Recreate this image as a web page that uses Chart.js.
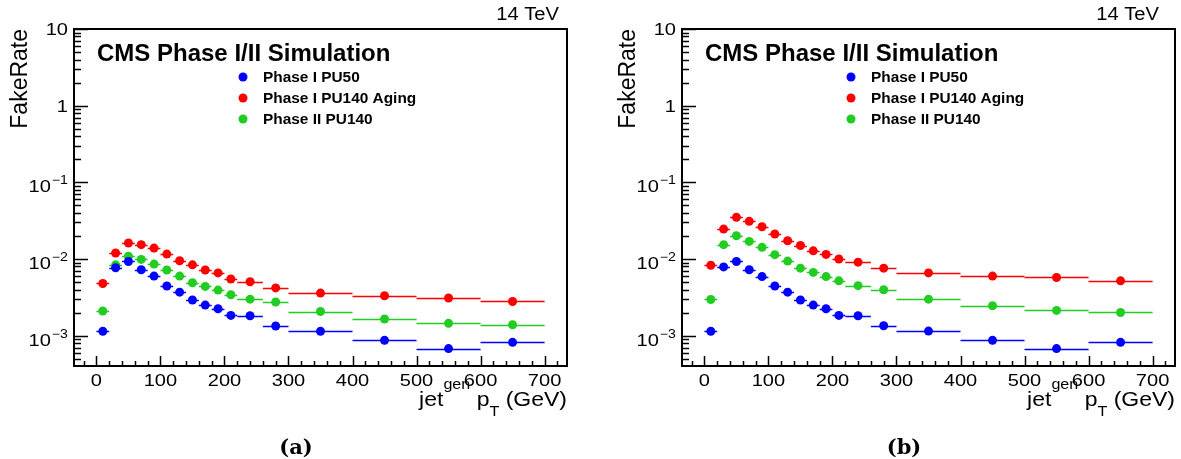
<!DOCTYPE html>
<html>
<head>
<meta charset="utf-8">
<title>FakeRate vs jet pT</title>
<script src="https://cdn.jsdelivr.net/npm/chart.js@4.4.1/dist/chart.umd.min.js"></script>
<style>
  body { margin: 0; background: #ffffff; }
  #wrap { position: relative; width: 1181px; height: 459px; background: #ffffff; }
  canvas { position: absolute; top: 0; }
</style>
</head>
<body>
<div id="wrap">
  <canvas id="chartA" width="590" height="459" style="left:0px"></canvas>
  <canvas id="chartB" width="591" height="459" style="left:590px"></canvas>
</div>
<script>
// bin edges in jet gen pT (GeV)
const binEdges = [0, 20, 40, 60, 80, 100, 120, 140, 160, 180, 200, 220, 260, 300, 400, 500, 600, 700];
const binCenters = binEdges.slice(0, -1).map((e, i) => (e + binEdges[i + 1]) / 2);

const seriesLabels = ['Phase I PU50', 'Phase I PU140 Aging', 'Phase II PU140'];
const seriesColors = ['#0000ff', '#ff0000', '#22cc22'];

// panel (a)
const aPU50 = [1.14e-3, 7.7e-3, 9.3e-3, 7.25e-3, 6.0e-3, 4.45e-3, 3.7e-3, 2.92e-3, 2.51e-3, 2.25e-3, 1.84e-3, 1.82e-3, 1.34e-3, 1.14e-3, 8.7e-4, 6.8e-4, 8.2e-4];
const aPU140Aging = [4.8e-3, 1.20e-2, 1.62e-2, 1.54e-2, 1.39e-2, 1.16e-2, 9.5e-3, 8.4e-3, 7.2e-3, 6.6e-3, 5.5e-3, 5.06e-3, 4.2e-3, 3.6e-3, 3.32e-3, 3.1e-3, 2.8e-3];
const aPhase2PU140 = [2.1e-3, 8.4e-3, 1.09e-2, 9.9e-3, 8.6e-3, 7.2e-3, 6.0e-3, 4.9e-3, 4.4e-3, 3.94e-3, 3.42e-3, 3.0e-3, 2.75e-3, 2.07e-3, 1.65e-3, 1.45e-3, 1.39e-3];

// panel (b)
const bPU50 = [1.14e-3, 7.9e-3, 9.3e-3, 7.25e-3, 5.9e-3, 4.45e-3, 3.7e-3, 2.92e-3, 2.51e-3, 2.25e-3, 1.84e-3, 1.82e-3, 1.35e-3, 1.15e-3, 8.7e-4, 6.8e-4, 8.2e-4];
const bPU140Aging = [8.3e-3, 2.46e-2, 3.5e-2, 3.1e-2, 2.64e-2, 2.12e-2, 1.73e-2, 1.5e-2, 1.28e-2, 1.15e-2, 1.0e-2, 9.1e-3, 7.6e-3, 6.6e-3, 6.0e-3, 5.75e-3, 5.2e-3];
const bPhase2PU140 = [2.97e-3, 1.54e-2, 2.01e-2, 1.7e-2, 1.42e-2, 1.14e-2, 9.4e-3, 7.6e-3, 6.7e-3, 5.9e-3, 5.2e-3, 4.5e-3, 3.98e-3, 3.0e-3, 2.46e-3, 2.14e-3, 2.01e-3];

// axis ticks
const xMajorTicks = [0, 100, 200, 300, 400, 500, 600, 700];
const yMajorTicks = [1e-3, 1e-2, 1e-1, 1, 10];
const yTickLabels = [['10', '\u22123'], ['10', '\u22122'], ['10', '\u22121'], ['1', ''], ['10', '']];

const FONT = "'Liberation Sans', Arial, Helvetica, sans-serif";

// draw text with a small horizontal stretch, like the ROOT output
function drawText(ctx, s, x, y, font, align, sx) {
    ctx.save();
    ctx.font = font;
    ctx.textAlign = 'left';
    ctx.textBaseline = 'alphabetic';
    const w = ctx.measureText(s).width * sx;
    let x0 = x;
    if (align === 'right') x0 = x - w;
    if (align === 'center') x0 = x - w / 2;
    ctx.translate(x0, y);
    ctx.scale(sx, 1);
    ctx.fillText(s, 0, 0);
    ctx.restore();
    return w;
}

function textWidth(ctx, s, font, sx) {
    ctx.save();
    ctx.font = font;
    const w = ctx.measureText(s).width * sx;
    ctx.restore();
    return w;
}

const rootStyle = {
    id: 'rootStyle',
    beforeDatasetsDraw(chart) {
        // horizontal bin-width error bars
        const ctx = chart.ctx;
        const xs = chart.scales.x, ys = chart.scales.y;
        const area = chart.chartArea;
        ctx.save();
        ctx.beginPath();
        ctx.rect(area.left, area.top, area.right - area.left, area.bottom - area.top);
        ctx.clip();
        ctx.lineWidth = 1.5;
        chart.data.datasets.forEach(ds => {
            ctx.strokeStyle = ds.borderColor;
            ds.data.forEach((p, j) => {
                const xl = xs.getPixelForValue(binEdges[j]);
                const xr = xs.getPixelForValue(binEdges[j + 1]);
                const yp = Math.round(ys.getPixelForValue(p.y)) + 0.5;
                ctx.beginPath();
                ctx.moveTo(xl, yp);
                ctx.lineTo(xr, yp);
                ctx.stroke();
            });
        });
        ctx.restore();
    },
    afterDraw(chart, args, opts) {
        const ctx = chart.ctx;
        const xs = chart.scales.x, ys = chart.scales.y;
        const a = chart.chartArea;
        ctx.save();
        ctx.strokeStyle = '#000000';
        ctx.fillStyle = '#000000';

        // frame
        ctx.lineWidth = 2;
        ctx.strokeRect(a.left, a.top, a.right - a.left, a.bottom - a.top);

        // x ticks (inside, from bottom)
        ctx.lineWidth = 1.5;
        for (let v = -20; v <= 720; v += 20) {
            const px = Math.round(xs.getPixelForValue(v)) + 0.5;
            const len = (v % 100 === 0) ? 10 : 5;
            ctx.beginPath();
            ctx.moveTo(px, a.bottom);
            ctx.lineTo(px, a.bottom - len);
            ctx.stroke();
        }
        // y ticks (inside, from left)
        for (let e = -4; e <= 1; e++) {
            for (let m = 1; m <= 9; m++) {
                const v = m * Math.pow(10, e);
                if (v < ys.min || v > ys.max * 1.0001) continue;
                const py = Math.round(ys.getPixelForValue(v)) + 0.5;
                const len = (m === 1) ? 14 : 7;
                ctx.beginPath();
                ctx.moveTo(a.left, py);
                ctx.lineTo(a.left + len, py);
                ctx.stroke();
            }
        }

        // x tick labels
        const lblFont = '17px ' + FONT;
        xMajorTicks.forEach(v => {
            drawText(ctx, String(v), xs.getPixelForValue(v), a.bottom + 20, lblFont, 'center', 1.18);
        });

        // y tick labels with superscript exponents
        const supFont = '12px ' + FONT;
        yMajorTicks.forEach((v, i) => {
            const py = ys.getPixelForValue(v);
            const [base, sup] = yTickLabels[i];
            const right = a.left - 6;
            if (sup) {
                const wSup = textWidth(ctx, sup, supFont, 1.18);
                drawText(ctx, sup, right, py + 2, supFont, 'right', 1.18);
                drawText(ctx, base, right - wSup - 1, py + 10, lblFont, 'right', 1.18);
            } else {
                drawText(ctx, base, right, py + 6, lblFont, 'right', 1.18);
            }
        });

        // x axis title: jet^gen p_T (GeV)
        const tFont = '20px ' + FONT;
        const sFont = '14px ' + FONT;
        const sx = 1.15;
        const parts = [
            ['jet', tFont, 0],
            ['gen', sFont, -17],
            [' p', tFont, 0],
            ['T', sFont, 10],
            [' (GeV)', tFont, 0]
        ];
        let total = 0;
        parts.forEach(p => { total += textWidth(ctx, p[0], p[1], sx); });
        let cx = a.right - total;
        const baseY = a.bottom + 40;
        parts.forEach(p => {
            cx += drawText(ctx, p[0], cx, baseY + p[2], p[1], 'left', sx);
        });

        // y axis title
        ctx.save();
        ctx.translate(a.left - 47, a.top);
        ctx.rotate(-Math.PI / 2);
        ctx.font = '23px ' + FONT;
        ctx.textAlign = 'right';
        ctx.fillText('FakeRate', 0, 0);
        ctx.restore();

        // energy label
        drawText(ctx, '14 TeV', opts.tevX, 20, '18px ' + FONT, 'right', 1.12);

        // CMS label
        drawText(ctx, 'CMS Phase I/II Simulation', a.left + 23, a.top + 32, 'bold 24px ' + FONT, 'left', 1.0);

        // legend
        const legY = [48, 69, 90];
        chart.data.datasets.forEach((ds, i) => {
            const ly = a.top + legY[i];
            ctx.fillStyle = ds.backgroundColor;
            ctx.beginPath();
            ctx.arc(a.left + 169, ly, 4.5, 0, Math.PI * 2);
            ctx.fill();
            ctx.fillStyle = '#000000';
            drawText(ctx, ds.label, a.left + 189, ly + 5, 'bold 14px ' + FONT, 'left', 1.1);
        });

        // panel letter
        ctx.save();
        ctx.font = "bold 21px 'DejaVu Serif', serif";
        ctx.textAlign = 'center';
        ctx.fillText(opts.panel, a.left + 222, 454);
        ctx.restore();

        ctx.restore();
    }
};

function makePanel(canvasId, values, pad, panel, tevX) {
    const ctx = document.getElementById(canvasId).getContext('2d');
    const datasets = values.map((vals, i) => ({
        label: seriesLabels[i],
        data: vals.map((v, j) => ({ x: binCenters[j], y: v })),
        backgroundColor: seriesColors[i],
        borderColor: seriesColors[i],
        pointRadius: 4.5,
        pointBorderWidth: 0,
        showLine: false
    }));
    return new Chart(ctx, {
        type: 'scatter',
        data: { datasets: datasets },
        options: {
            responsive: false,
            devicePixelRatio: 1,
            animation: false,
            events: [],
            layout: { padding: pad },
            plugins: {
                legend: { display: false },
                tooltip: { enabled: false },
                rootStyle: { panel: panel, tevX: tevX }
            },
            scales: {
                x: { type: 'linear', min: -35, max: 735, display: false },
                y: { type: 'logarithmic', min: 4.03e-4, max: 10, display: false }
            }
        },
        plugins: [rootStyle]
    });
}

makePanel('chartA', [aPU50, aPU140Aging, aPhase2PU140], { left: 74, right: 23, top: 29, bottom: 93 }, '(a)', 559);
makePanel('chartB', [bPU50, bPU140Aging, bPhase2PU140], { left: 92, right: 6, top: 29, bottom: 93 }, '(b)', 569);
</script>
</body>
</html>
